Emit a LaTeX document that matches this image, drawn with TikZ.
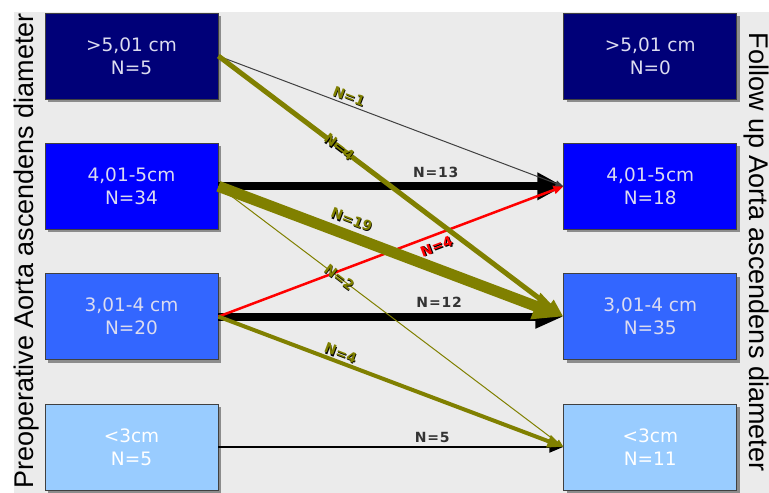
\documentclass[tikz,border=0pt]{standalone}
\usepackage{fontspec}
\setmainfont{DejaVu Sans}
\newfontfamily\axisfont{Liberation Sans}
\newfontfamily\countfont[LetterSpace=6]{DejaVu Sans}
\usetikzlibrary{arrows.meta, positioning, shadows}
\definecolor{panelgray}{RGB}{235,235,235}
\definecolor{navybox}{RGB}{0,0,120}
\definecolor{bluebox}{RGB}{0,0,255}
\definecolor{midbox}{RGB}{51,102,255}
\definecolor{lightbox}{RGB}{153,204,255}
\definecolor{boxtext}{RGB}{220,220,240}
\definecolor{flowolive}{RGB}{128,128,0}
\definecolor{flowred}{RGB}{255,0,0}
\newcommand{\embossed}[1]{\makebox[0pt][l]{\hspace{1pt}\raisebox{-1pt}{\color{black}#1}}#1}
\tikzset{
  sizebox/.style={rectangle, draw=black!75, line width=0.8pt,
    minimum width=173pt, minimum height=86pt, text=boxtext, align=center,
    font=\fontsize{18.5}{23}\selectfont,
    drop shadow={shadow xshift=3pt, shadow yshift=-3pt, opacity=1, fill=black!45}},
  countlabel/.style={font=\countfont\bfseries\fontsize{14}{14}\selectfont, text=black!80, inner sep=1pt},
  slopelabel/.style={sloped, font=\bfseries\fontsize{14}{14}\selectfont, text=flowolive, inner sep=1pt},
  axislabel/.style={anchor=base, inner sep=0pt, font=\axisfont\fontsize{27}{27}\selectfont}
}

\begin{document}
\begin{tikzpicture}[x=1pt, y=-1pt]
  \useasboundingbox (0,0) rectangle (769,493);
  \fill[panelgray] (14,12) rectangle (769,493);

  % preoperative column
  \node[sizebox, fill=navybox] (pre5) at (131.5,56) {>5,01 cm\\N=5};
  \node[sizebox, fill=bluebox, below=43.5pt of pre5] (pre4) {4,01-5cm\\N=34};
  \node[sizebox, fill=midbox, below=43.5pt of pre4] (pre3) {3,01-4 cm\\N=20};
  \node[sizebox, fill=lightbox, text=white, below=43.5pt of pre3] (pre2) {<3cm\\N=5};

  % follow up column
  \node[sizebox, fill=navybox, right=345pt of pre5] (fu5) {>5,01 cm\\N=0};
  \node[sizebox, fill=bluebox, right=345pt of pre4] (fu4) {4,01-5cm\\N=18};
  \node[sizebox, fill=midbox, right=345pt of pre3] (fu3) {3,01-4 cm\\N=35};
  \node[sizebox, fill=lightbox, text=white, right=345pt of pre2] (fu2) {<3cm\\N=11};

  \node[axislabel, rotate=90] (prelabel) at (34,251) {Preoperative Aorta ascendens diameter};
  \node[axislabel, rotate=-90] (fulabel) at (749,252) {Follow up Aorta ascendens diameter};

  % unchanged
  \draw[line width=8pt, -{Triangle[length=26pt, width=26pt]}] (pre4.east)
    -- node[countlabel, above=4pt, pos=0.63] (n13) {N=13} (fu4.west);
  \draw[line width=8pt, -{Triangle[length=28pt, width=22pt]}] (pre3.east)
    -- node[countlabel, above=4pt, pos=0.64] (n12) {N=12} (fu3.west);
  \draw[line width=2.5pt, -{Triangle[length=14pt, width=11pt]}] (pre2.east)
    -- node[countlabel, above=1.5pt, pos=0.62] (n5) {N=5} (fu2.west);

  % grown
  \draw[flowred, line width=2.5pt, -{Triangle[length=10pt, width=8pt]}] (pre3.east)
    -- node[slopelabel, text=flowred, below=4pt, pos=0.62] (r4) {\embossed{N=4}} (fu4.west);

  % shrunk
  \draw[draw=black!75, line width=1pt, -{Triangle[length=8pt, width=6pt]}] (pre5.east)
    -- node[slopelabel, above=1pt, pos=0.37] (s1) {\embossed{N=1}} (fu4.west);
  \draw[flowolive, line width=11pt, -{Triangle[length=30pt, width=26pt]}] (pre4.east)
    -- node[slopelabel, above=3pt, pos=0.37] (s19) {\embossed{N=19}} (fu3.west);
  \draw[flowolive, line width=5pt, -{Triangle[length=18pt, width=14pt]}] (pre5.east)
    -- node[slopelabel, pos=0.35] (s4a) {\embossed{N=4}} (fu3.west);
  \draw[flowolive, line width=4pt, -{Triangle[length=16pt, width=12pt]}] (pre3.east)
    -- node[slopelabel, above=0pt, pos=0.345] (s4b) {\embossed{N=4}} (fu2.west);
  \draw[flowolive, line width=1pt, -{Triangle[length=8pt, width=6pt]}] (pre4.east)
    -- node[slopelabel, pos=0.35] (s2) {\embossed{N=2}} (fu2.west);
\end{tikzpicture}
\end{document}
